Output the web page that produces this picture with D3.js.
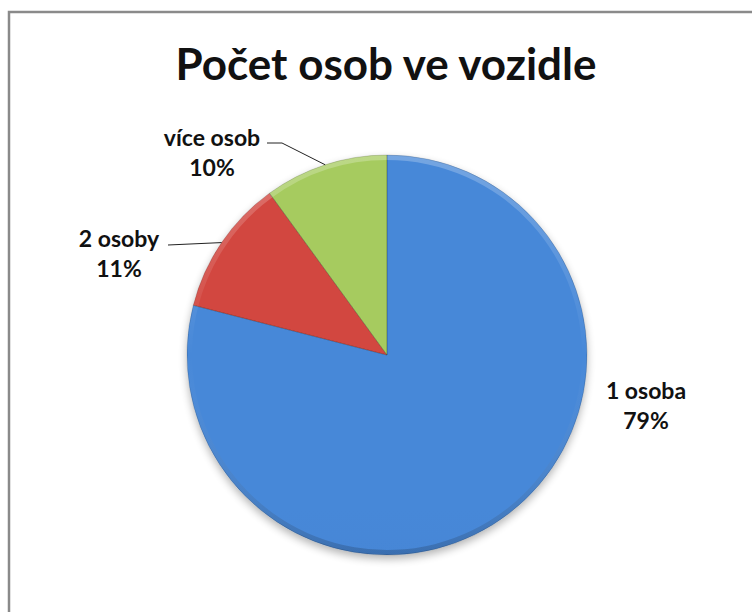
<!DOCTYPE html>
<html>
<head>
<meta charset="utf-8">
<script src="https://cdn.jsdelivr.net/npm/d3@7"></script>
<style>
  html, body { margin: 0; padding: 0; background: #fff; }
  svg { display: block; }
  text { font-family: Lato, "Open Sans", sans-serif; font-weight: bold; fill: #111; }
</style>
</head>
<body>
<svg id="chart" width="752" height="612"></svg>
<script>
// ---- data ----
const title = "Počet osob ve vozidle";
const categories = ["1 osoba", "2 osoby", "více osob"];
const values = [79, 11, 10];
const percentLabels = ["79%", "11%", "10%"];

// ---- layout / style ----
const W = 752, H = 612;
const cx = 387, cy = 355, R = 200;
const colors = [
  { top: "#4788d8", mid: "#4080cf", bot: "#3465ad" },
  { top: "#d24740", mid: "#c8413c", bot: "#b13733" },
  { top: "#a6cb5e", mid: "#9bbd52", bot: "#88aa44" }
];
const labelLayout = [
  { x: 646, y: 399, anchor: "middle" },
  { x: 119, y: 247, anchor: "middle", elbow: [168, 245] },
  { x: 212, y: 146, anchor: "middle", elbow: [267, 143], elbow2: [282, 143] }
];

const svg = d3.select("#chart");
const defs = svg.append("defs");

colors.forEach((c, i) => {
  const g = defs.append("linearGradient")
    .attr("id", "grad" + i)
    .attr("gradientUnits", "userSpaceOnUse")
    .attr("x1", 0).attr("y1", cy - R)
    .attr("x2", 0).attr("y2", cy + R);
  g.append("stop").attr("offset", "0%").attr("stop-color", c.top);
  g.append("stop").attr("offset", "55%").attr("stop-color", c.mid);
  g.append("stop").attr("offset", "100%").attr("stop-color", c.bot);
});

const shadow = defs.append("filter").attr("id", "shadow")
  .attr("x", "-20%").attr("y", "-20%").attr("width", "140%").attr("height", "140%");
shadow.append("feGaussianBlur").attr("in", "SourceAlpha").attr("stdDeviation", 4);
shadow.append("feOffset").attr("dx", 0).attr("dy", 4).attr("result", "ob");
shadow.append("feComponentTransfer").append("feFuncA").attr("type", "linear").attr("slope", 0.3);
const merge = shadow.append("feMerge");
merge.append("feMergeNode");
merge.append("feMergeNode").attr("in", "SourceGraphic");

// frame
svg.append("rect")
  .attr("x", 9).attr("y", 12)
  .attr("width", W + 50).attr("height", H + 50)
  .attr("fill", "#fff")
  .attr("stroke", "#8a8a8a").attr("stroke-width", 2.5);

// title
svg.append("text")
  .attr("x", 386).attr("y", 80)
  .attr("text-anchor", "middle")
  .attr("font-size", 44)
  .attr("font-weight", 900)
  .text(title);

const data = categories.map((c, i) => ({ name: c, value: values[i], pct: percentLabels[i], i }));

const pie = d3.pie().sort(null).value(d => d.value);
const arcs = pie(data);
const arc = d3.arc().innerRadius(0).outerRadius(R);
const rim = d3.arc().innerRadius(R - 5).outerRadius(R);

const g = svg.append("g").attr("transform", `translate(${cx},${cy})`);

g.append("g").attr("filter", "url(#shadow)")
  .selectAll("path").data(arcs).join("path")
  .attr("d", arc)
  .attr("fill", d => `url(#grad${d.data.i})`)
  .attr("transform", `translate(${-cx},${-cy})`)
  .attr("transform", null);

// bevel: light rim on top, dark rim on bottom
const rimGrad = defs.append("linearGradient")
  .attr("id", "rimGrad").attr("gradientUnits", "userSpaceOnUse")
  .attr("x1", 0).attr("y1", -R).attr("x2", 0).attr("y2", R);
rimGrad.append("stop").attr("offset", "0%").attr("stop-color", "#fff").attr("stop-opacity", 0.25);
rimGrad.append("stop").attr("offset", "50%").attr("stop-color", "#fff").attr("stop-opacity", 0.0);
rimGrad.append("stop").attr("offset", "100%").attr("stop-color", "#000").attr("stop-opacity", 0.18);
g.selectAll("path.rim").data(arcs).join("path")
  .attr("class", "rim")
  .attr("d", rim)
  .attr("fill", "url(#rimGrad)");

g.selectAll("path.edge").data(arcs).join("path")
  .attr("class", "edge")
  .attr("d", arc)
  .attr("fill", "none")
  .attr("stroke", "rgba(0,0,0,0.15)")
  .attr("stroke-width", 1);

// labels & leader lines
arcs.forEach(a => {
  const L = labelLayout[a.data.i];
  const mid = (a.startAngle + a.endAngle) / 2;
  const px = cx + Math.sin(mid) * R;
  const py = cy - Math.cos(mid) * R;
  if (L.elbow) {
    const pts = [L.elbow];
    if (L.elbow2) pts.push(L.elbow2);
    pts.push([px, py]);
    svg.append("path")
      .attr("d", d3.line()(pts))
      .attr("fill", "none")
      .attr("stroke", "#222")
      .attr("stroke-width", 1);
  }
  const t = svg.append("text")
    .attr("x", L.x).attr("y", L.y)
    .attr("text-anchor", L.anchor)
    .attr("font-size", 23)
    .attr("font-weight", 900);
  t.append("tspan").attr("x", L.x).text(a.data.name);
  t.append("tspan").attr("x", L.x).attr("dy", 30).text(a.data.pct);
});
</script>
</body>
</html>
